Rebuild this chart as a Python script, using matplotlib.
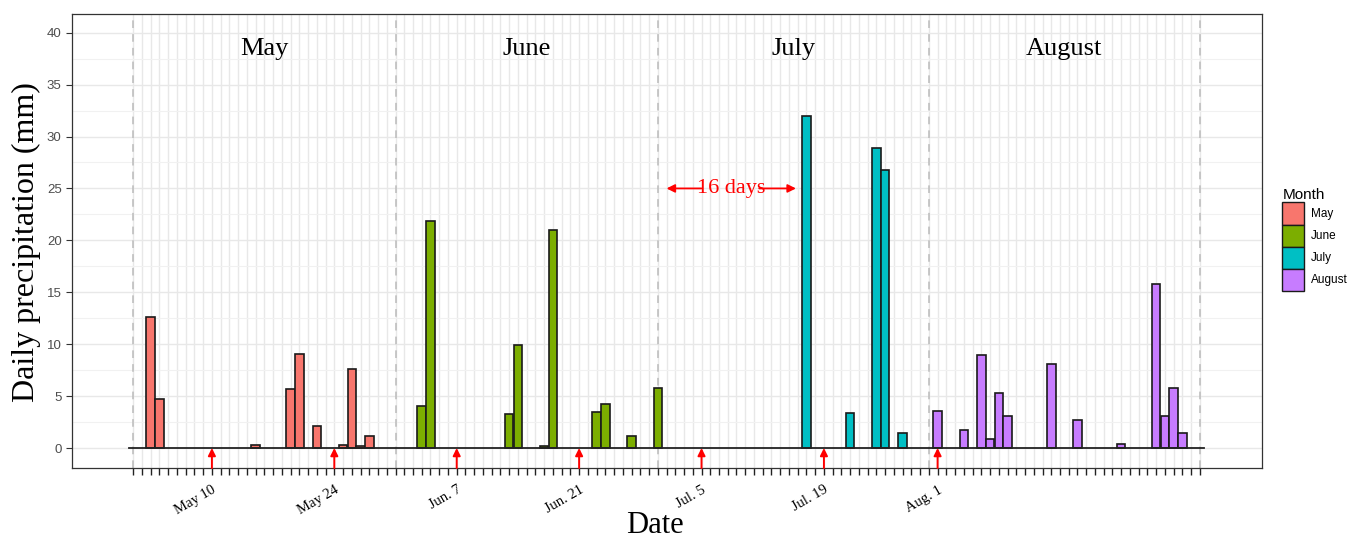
import matplotlib
matplotlib.use("Agg")
import matplotlib.pyplot as plt
from matplotlib.ticker import MultipleLocator
from matplotlib.patches import Patch

# daily precipitation (mm), day of month per month
may_days = [3, 4, 15, 19, 20, 22, 25, 26, 27, 28]
may_rain = [12.6, 4.7, 0.3, 5.7, 9.1, 2.1, 0.3, 7.6, 0.2, 1.2]
jun_days = [3, 4, 13, 14, 17, 18, 23, 24, 27, 30]
jun_rain = [4.0, 21.9, 3.3, 9.9, 0.2, 21.0, 3.5, 4.2, 1.2, 5.8]
jul_days = [17, 22, 25, 26, 28]
jul_rain = [32.0, 3.4, 28.9, 26.8, 1.4]
aug_days = [1, 4, 6, 7, 8, 9, 14, 17, 22, 26, 27, 28, 29]
aug_rain = [3.6, 1.7, 9.0, 0.9, 5.3, 3.1, 8.1, 2.7, 0.4, 15.8, 3.1, 5.8, 1.4]

months = ["May", "June", "July", "August"]
month_start = [0, 31, 61, 92]          # offset of the 1st of each month from May 1
month_colors = ["#F8766D", "#7CAE00", "#00BFC4", "#C77CFF"]
month_bounds = [0, 30, 60, 91, 122]    # dashed separators
tick_labels = {9: "May 10", 23: "May 24", 37: "Jun. 7", 51: "Jun. 21",
               65: "Jul. 5", 79: "Jul. 19", 92: "Aug. 1"}
sample_days = [9, 23, 37, 51, 65, 79, 92]

serif = "Liberation Serif"
sans = "Liberation Sans"

fig = plt.figure(figsize=(13.51, 5.38), dpi=100)
ax = fig.add_axes([0.0533, 0.130, 0.8808, 0.844])

days = [may_days, jun_days, jul_days, aug_days]
rain = [may_rain, jun_rain, jul_rain, aug_rain]
for d, r, start, col, name in zip(days, rain, month_start, month_colors, months):
    x = [start + k - 1 for k in d]
    ax.bar(x, r, width=0.98, color=col, edgecolor="#1a1a1a", linewidth=1.2,
           zorder=3, label=name)

ax.plot([-0.5, 122.5], [0, 0], color="#222222", lw=1.3, zorder=4)

for b in month_bounds:
    ax.axvline(b, color="#bbbbbb", lw=1.1, ls=(0, (5, 4)), zorder=2)

for i, name in enumerate(months):
    ax.text((month_bounds[i] + month_bounds[i + 1]) / 2, 38.4, name,
            ha="center", va="center", fontsize=19, family=serif)

ymin, ymax = -1.93, 41.8
for s in sample_days:
    ax.annotate("", xy=(s, 0), xytext=(s, ymin),
                arrowprops=dict(arrowstyle="-|>", color="red", lw=1.4,
                                mutation_scale=11, shrinkA=0, shrinkB=0),
                zorder=5)

# dry spell annotation
ax.annotate("", xy=(61.0, 25), xytext=(65.0, 25),
            arrowprops=dict(arrowstyle="-|>", color="red", lw=1.3,
                            mutation_scale=12, shrinkA=0, shrinkB=0))
ax.annotate("", xy=(75.8, 25), xytext=(71.6, 25),
            arrowprops=dict(arrowstyle="-|>", color="red", lw=1.3,
                            mutation_scale=12, shrinkA=0, shrinkB=0))
ax.text(68.35, 25, "16 days", color="red", ha="center", va="center",
        fontsize=16, family=serif)

ax.set_xlim(-7.0, 129.1)
ax.set_ylim(ymin, ymax)

ax.set_xticks(range(0, 123))
ax.set_xticklabels([tick_labels.get(i, "") for i in range(0, 123)],
                   rotation=30, ha="right", rotation_mode="anchor",
                   family=serif, fontsize=10.5)
ax.tick_params(axis="x", length=5, width=1, color="#222222", pad=6)

ax.yaxis.set_major_locator(MultipleLocator(5))
ax.yaxis.set_minor_locator(MultipleLocator(2.5))
ax.tick_params(axis="y", which="major", length=4, color="#333333",
               labelcolor="#4d4d4d", labelsize=9.5)
ax.tick_params(axis="y", which="minor", length=0)
for lab in ax.get_yticklabels():
    lab.set_family(sans)

ax.grid(True, axis="x", which="major", color="#e8e8e8", lw=1.0, zorder=0)
ax.grid(True, axis="y", which="major", color="#e8e8e8", lw=1.0, zorder=0)
ax.grid(True, axis="y", which="minor", color="#f1f1f1", lw=0.8, zorder=0)
ax.set_axisbelow(True)

for sp in ax.spines.values():
    sp.set_color("#333333")
    sp.set_linewidth(0.9)

ax.set_ylabel("Daily precipitation (mm)", family=serif, fontsize=23)
ax.yaxis.set_label_coords(-0.026, 0.498)
fig.text(0.4848, 0.009, "Date", family=serif, fontsize=22,
         ha="center", va="baseline")

handles = [Patch(facecolor=c, edgecolor="#1a1a1a", lw=1.0) for c in month_colors]
leg = fig.legend(handles, months, title="Month", loc="upper left",
                 bbox_to_anchor=(0.943, 0.665), frameon=False,
                 prop={"family": sans, "size": 8.5},
                 title_fontproperties={"family": sans, "size": 11},
                 handlelength=1.85, handleheight=2.5,
                 labelspacing=0.0, handletextpad=0.6, borderpad=0.2)
leg._legend_box.align = "left"

fig.savefig("out.png", dpi=100)
